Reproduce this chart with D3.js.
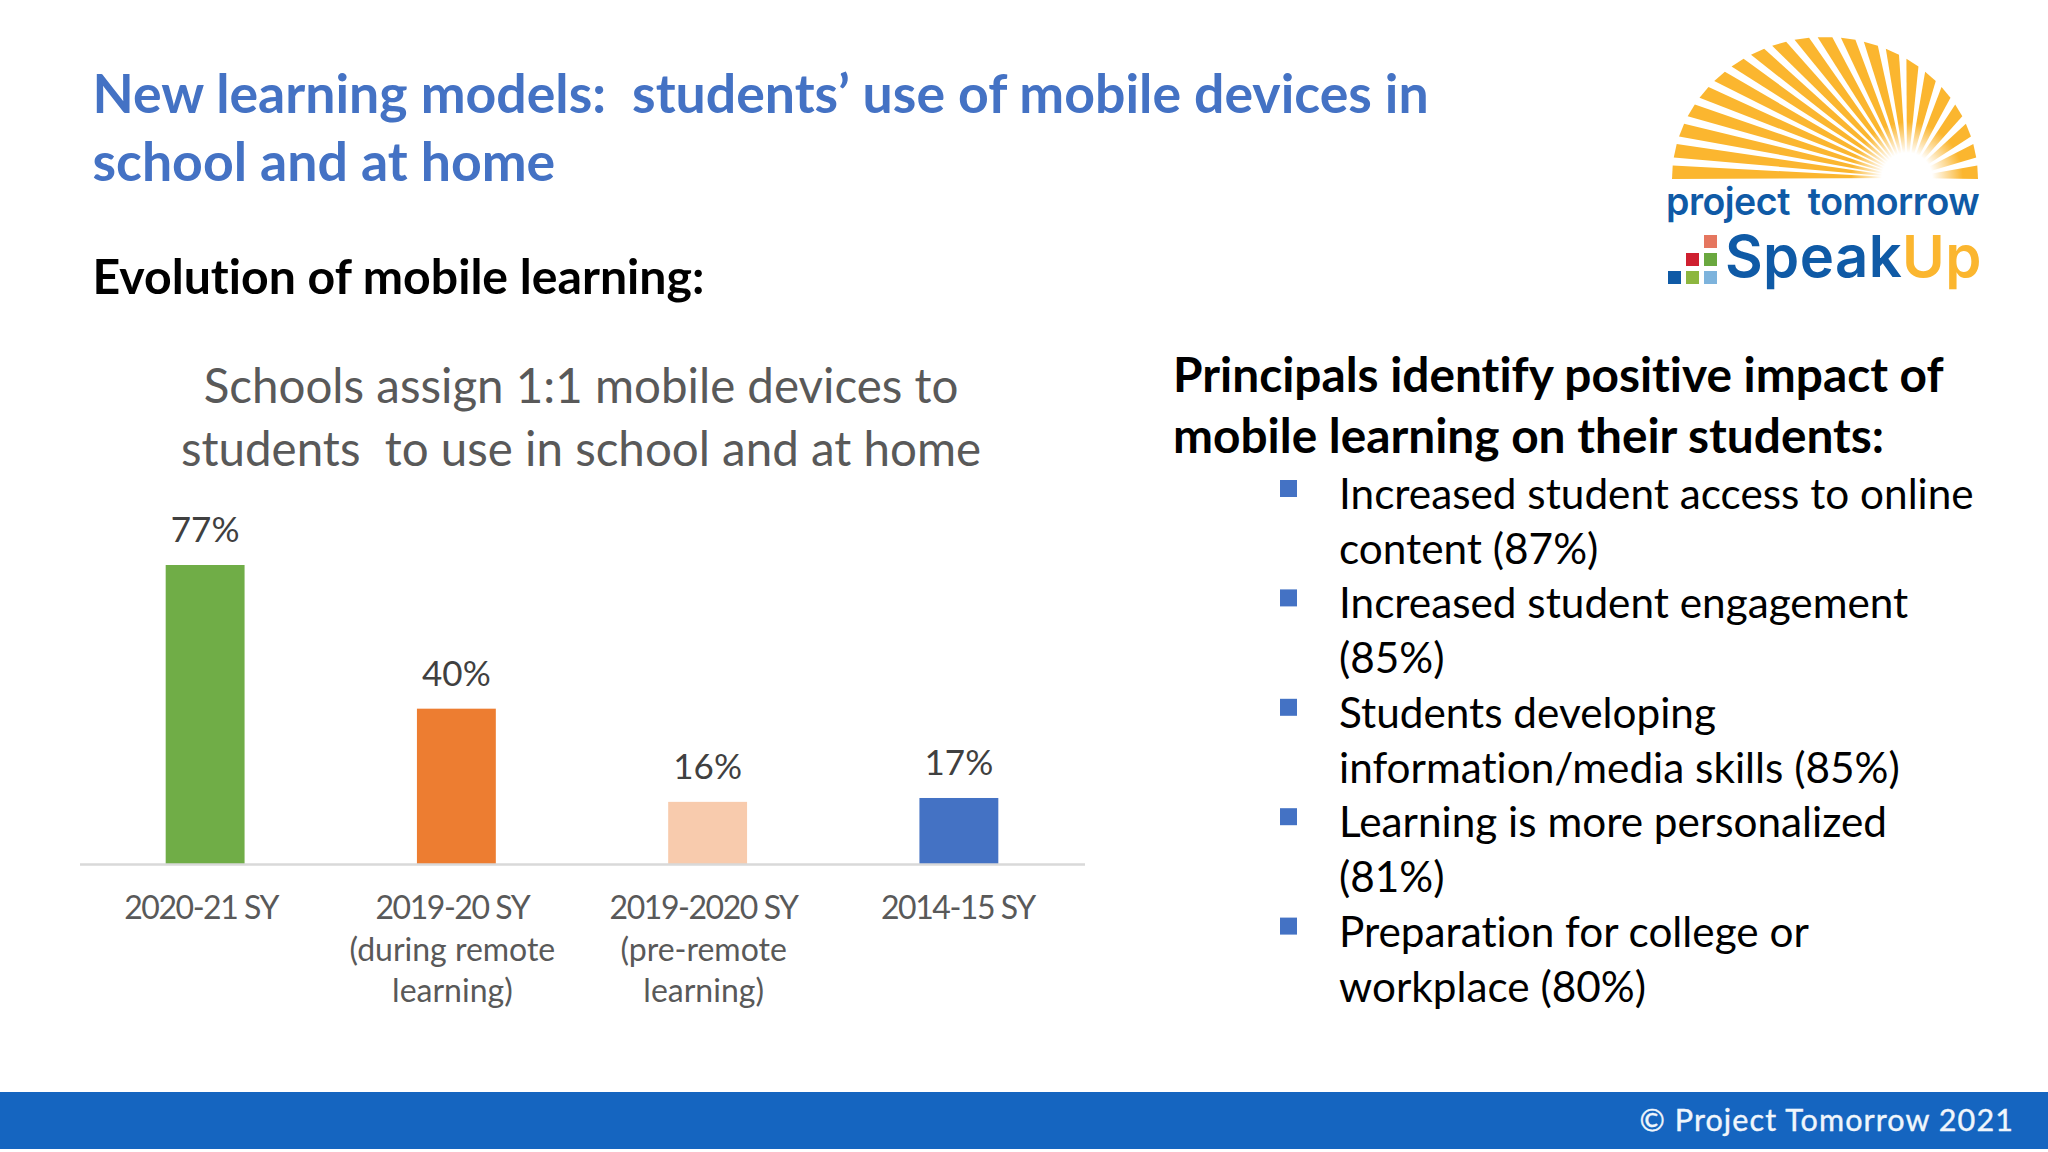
<!DOCTYPE html>
<html>
<head>
<meta charset="utf-8">
<script src="https://cdn.jsdelivr.net/npm/d3@7"></script>
<style>
  html, body { margin: 0; padding: 0; background: #fff; }
  svg { display: block; }
  text { font-family: Lato, "Open Sans", sans-serif; font-variant-ligatures: none; }
</style>
</head>
<body>
<script>
var categories = ['2020-21 SY', '2019-20 SY', '2019-2020 SY', '2014-15 SY'];
var categoryLines = [
  ['2020-21 SY'],
  ['2019-20 SY', '(during remote', 'learning)'],
  ['2019-2020 SY', '(pre-remote', 'learning)'],
  ['2014-15 SY']
];
var values = [77, 40, 16, 17];
var barColors = ['#70ad47', '#ed7d31', '#f8cbad', '#4472c4'];

var titleLines = ['New learning models:  students\u2019 use of mobile devices in', 'school and at home'];
var chartTitleLines = ['Schools assign 1:1 mobile devices to', 'students  to use in school and at home'];
var rightHeading = ['Principals identify positive impact of', 'mobile learning on their students:'];
var bullets = [
  ['Increased student access to online', 'content (87%)'],
  ['Increased student engagement', '(85%)'],
  ['Students developing', 'information/media skills (85%)'],
  ['Learning is more personalized', '(81%)'],
  ['Preparation for college or', 'workplace (80%)']
];

var stage = d3.select('body').append('svg')
  .attr('width', 2048)
  .attr('height', 1152);

stage.append('rect').attr('width', 2048).attr('height', 1152).attr('fill', '#fff');

// heading block
stage.selectAll('.title').data(titleLines).enter().append('text')
  .attr('class', 'title')
  .style('white-space', 'pre')
  .attr('x', 92.5)
  .attr('y', function(d, i){ return 113 + i * 68; })
  .attr('font-size', 53.6)
  .attr('font-weight', 700)
  .attr('fill', '#4472c4')
  .text(function(d){ return d; });

stage.append('text')
  .attr('x', 92.5).attr('y', 294)
  .attr('font-size', 48.2).attr('font-weight', 700).attr('fill', '#000')
  .text('Evolution of mobile learning:');

// chart
var x = d3.scaleBand().domain(categories).range([79.5, 1084.5]).paddingInner(0.686).paddingOuter(0.343);
var y = d3.scaleLinear().domain([0, 77]).range([864, 565]);

stage.selectAll('.chart-title').data(chartTitleLines).enter().append('text')
  .attr('class', 'chart-title')
  .style('white-space', 'pre')
  .attr('x', 581)
  .attr('y', function(d, i){ return 403 + i * 63; })
  .attr('text-anchor', 'middle')
  .attr('font-size', 47.5)
  .attr('fill', '#595959')
  .text(function(d){ return d; });

stage.selectAll('.bar').data(values).enter().append('rect')
  .attr('class', 'bar')
  .attr('x', function(d, i){ return x(categories[i]); })
  .attr('y', function(d){ return y(d); })
  .attr('width', x.bandwidth())
  .attr('height', function(d){ return y(0) - y(d); })
  .attr('fill', function(d, i){ return barColors[i]; });

stage.selectAll('.value').data(values).enter().append('text')
  .attr('class', 'value')
  .attr('x', function(d, i){ return x(categories[i]) + x.bandwidth() / 2; })
  .attr('y', function(d){ return y(d) - 23; })
  .attr('text-anchor', 'middle')
  .attr('font-size', 35)
  .attr('fill', '#404040')
  .text(function(d){ return d + '%'; });

var axis = stage.append('g')
  .attr('transform', 'translate(0,864)')
  .call(d3.axisBottom(x).tickSize(0).tickPadding(0).tickFormat(''));
axis.select('.domain').attr('stroke', '#d9d9d9').attr('stroke-width', 2.5);

axis.selectAll('.tick').each(function(d, i){
  var dx = i === 3 ? -1 : -4;
  var label = d3.select(this).select('text')
    .attr('x', dx).attr('y', 0).attr('dy', null)
    .attr('font-size', 32)
    .attr('fill', '#595959')
    .style('font-family', 'Lato');
  label.selectAll('tspan').data(categoryLines[i]).enter().append('tspan')
    .attr('x', dx)
    .attr('y', function(s, j){ return 55 + j * 41.5; })
    .attr('letter-spacing', function(s){ return /\d/.test(s) ? -1.45 : 0; })
    .text(function(s){ return s; });
});

// right column
stage.selectAll('.right-head').data(rightHeading).enter().append('text')
  .attr('class', 'right-head')
  .attr('x', 1173)
  .attr('y', function(d, i){ return 392 + i * 61; })
  .attr('font-size', 47.8)
  .attr('font-weight', 700)
  .attr('fill', '#000')
  .text(function(d){ return d; });

var bulletGroup = stage.selectAll('.bullet').data(bullets).enter().append('g')
  .attr('class', 'bullet')
  .attr('transform', function(d, i){ return 'translate(0,' + (i * 109.4) + ')'; });

bulletGroup.append('rect')
  .attr('x', 1280).attr('y', 480)
  .attr('width', 17).attr('height', 17)
  .attr('fill', '#4472c4');

bulletGroup.selectAll('text').data(function(d){ return d; }).enter().append('text')
  .attr('x', 1339)
  .attr('y', function(d, i){ return 509 + i * 55; })
  .attr('font-size', 42.3)
  .attr('fill', '#000')
  .text(function(d){ return d; });

// footer
stage.append('rect').attr('x', 0).attr('y', 1092).attr('width', 2048).attr('height', 57).attr('fill', '#1565c0');
stage.append('text')
  .attr('x', 2014).attr('y', 1131)
  .attr('text-anchor', 'end')
  .attr('font-size', 30.5)
  .attr('letter-spacing', 1.1)
  .attr('fill', '#f0f6fc')
  .attr('stroke', '#f0f6fc')
  .attr('stroke-width', 0.4)
  .text('\u00a9 Project Tomorrow 2021');

// logo
var logo = stage.append('g');
var sun = { cx: 1825, cy: 179, rx: 153, ry: 142, fx: 1907, fy: 178 };
var rayPoint = function(deg){
  var t = deg * Math.PI / 180;
  return [sun.cx - sun.rx * Math.cos(t), sun.cy - sun.ry * Math.sin(t)];
};
logo.selectAll('.ray').data(d3.range(21)).enter().append('path')
  .attr('class', 'ray')
  .attr('d', function(i){
    var a = rayPoint(i * 8.725), b = rayPoint(i * 8.725 + 5.5);
    return 'M' + a + 'L' + b + 'L' + [sun.fx, sun.fy] + 'Z';
  })
  .attr('fill', '#fbb62f');

var glow = stage.append('defs').append('radialGradient').attr('id', 'sunGlow');
glow.append('stop').attr('offset', '45%').attr('stop-color', '#fff').attr('stop-opacity', 1);
glow.append('stop').attr('offset', '100%').attr('stop-color', '#fff').attr('stop-opacity', 0);
logo.append('circle').attr('cx', sun.fx).attr('cy', sun.fy).attr('r', 56).attr('fill', 'url(#sunGlow)');
logo.append('rect').attr('x', 1660).attr('y', 179.5).attr('width', 340).attr('height', 6).attr('fill', '#fff');

logo.append('text')
  .attr('x', 1666).attr('y', 215)
  .attr('font-size', 37.5).attr('font-weight', 600)
  .attr('fill', '#0f5aa6')
  .style('font-family', 'Inter')
  .attr('letter-spacing', -0.5)
  .style('white-space', 'pre')
  .text('project  tomorrow');

var speak = logo.append('text')
  .attr('x', 1725).attr('y', 277)
  .attr('font-size', 58).attr('font-weight', 600)
  .attr('letter-spacing', 0.4)
  .style('font-family', 'Inter');
speak.append('tspan').attr('fill', '#0f5aa6').text('Speak');
speak.append('tspan').attr('fill', '#fbb62f').text('Up');

var squareColors = ['#0f5aa6', '#8db63f', '#7db3dc', '#cf2030', '#6aa83f', '#e5765f'];
var squareCols = [0, 1, 2, 1, 2, 2];
var squareRows = [0, 0, 0, 1, 1, 2];
logo.selectAll('.square').data(squareColors).enter().append('rect')
  .attr('class', 'square')
  .attr('x', function(d, i){ return 1668 + squareCols[i] * 18; })
  .attr('y', function(d, i){ return 271 - squareRows[i] * 18; })
  .attr('width', 13).attr('height', 13)
  .attr('fill', function(d){ return d; });
</script>
</body>
</html>
